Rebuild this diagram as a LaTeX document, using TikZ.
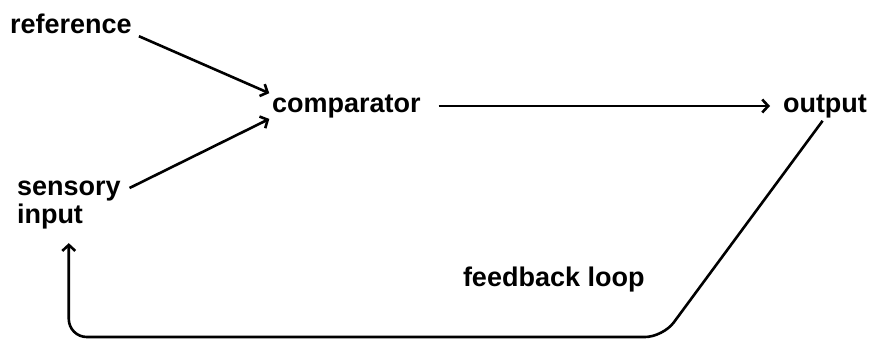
\documentclass[tikz,border=0pt]{standalone}
\usepackage{fontspec}
\setmainfont{Liberation Sans}
\usetikzlibrary{positioning,calc,arrows.meta}

\begin{document}
\begin{tikzpicture}[x=1pt, y=-1pt,
        word/.style={inner sep=0pt, outer sep=0pt, font=\fontsize{27}{28}\selectfont\bfseries, align=left},
        link/.style={line width=2.6pt},
        >={Straight Barb[length=6pt,width=13pt]}
    ]
        \useasboundingbox (0,0) rectangle (870,340);

        \node [word, anchor=base west] (ref) at (10,33) {reference};
        \node [word, anchor=base west] (comp) at (272,112) {comparator};
        \node [word, anchor=base west] (out) at (783,112) {output};
        \node [word, anchor=north west] (sens) at (17,181) {sensory\\input};
        \node [word, anchor=base west] (fb) at (463,286) {feedback loop};
        \coordinate (corner) at (663,337);

        \draw [link, ->, shorten <=8pt, shorten >=3pt] (ref.base east) -- (comp.north west);
        \draw [link, ->, shorten >=3pt] ([shift={(9,7)}]sens.north east) -- (comp.south west);
        \draw [link, ->, shorten <=18pt, shorten >=13pt] (comp.east) -- (out.west);

        % feedback path back to the sensor
        \draw [link, ->, rounded corners=18pt, shorten <=4pt, shorten >=14pt]
            (out.south) -- (corner) -| (sens.south);
    \end{tikzpicture}
\end{document}
